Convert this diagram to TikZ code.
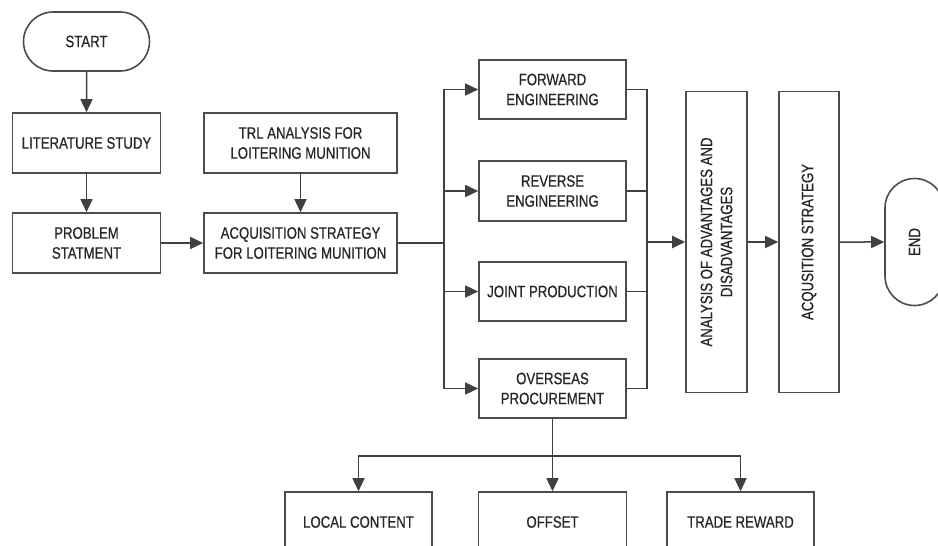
\documentclass[tikz,border=0pt]{standalone}
\usepackage{fontspec}
\setmainfont{Liberation Sans}[FakeStretch=0.8,FakeBold=0.6]
\usepackage{tikz}
\usetikzlibrary{arrows.meta,shapes.misc}

\tikzset{
  box/.style={draw=black!70, line width=1.6pt, fill=white, align=center,
    inner sep=0pt, minimum width=148pt, minimum height=60pt,
    text=black!85, font=\fontsize{16.5}{20}\selectfont},
  term/.style={box, rounded rectangle, minimum width=126pt, minimum height=59pt},
  tall/.style={box, rotate=90, minimum width=301pt, minimum height=61pt},
  link/.style={draw=black!75, line width=1.5pt, -{Triangle[length=13pt,width=12pt]}},
  wire/.style={draw=black!75, line width=1.5pt}
}

\begin{document}
\begin{tikzpicture}[x=1pt,y=-1pt]
\useasboundingbox (0,0) rectangle (938,546);
\clip (0,0) rectangle (938,546);

% left column
\node[term] (start) at (86.5,41.5) {START};
\node[box] (lit) at (86.5,143) {LITERATURE STUDY};
\node[box] (prob) at (86.5,243) {PROBLEM\\STATMENT};
\node[box, minimum width=193pt] (trl) at (300.5,143) {TRL ANALYSIS FOR\\LOITERING MUNITION};
\node[box, minimum width=193pt] (acq) at (300.5,243) {ACQUISITION STRATEGY\\FOR LOITERING MUNITION};

% options
\node[box, minimum width=147pt, minimum height=59pt] (fwd) at (552.5,89.5) {FORWARD\\ENGINEERING};
\node[box, minimum width=147pt] (rev) at (552.5,191) {REVERSE\\ENGINEERING};
\node[box, minimum width=147pt, minimum height=59pt] (joint) at (552.5,291.5) {JOINT PRODUCTION};
\node[box, minimum width=147pt, minimum height=59pt] (over) at (552.5,388.5) {OVERSEAS\\PROCUREMENT};

% right part
\node[tall] (anal) at (716.5,242) {ANALYSIS OF ADVANTAGES AND\\DISADVANTAGES};
\node[tall, minimum height=60pt] (acqs) at (809,242) {ACQUSITION STRATEGY};
\node[term, rotate=90, minimum width=127pt] (end) at (914.5,242) {END};

% bottom row
\node[box, minimum width=147pt] (local) at (358.5,522) {LOCAL CONTENT};
\node[box] (offset) at (552.5,522) {OFFSET};
\node[box, minimum width=147pt] (trade) at (740.5,522) {TRADE REWARD};

\coordinate (split) at (444,243);
\coordinate (join) at (647,242);
\coordinate (fork) at (552.5,456);

\draw[link] (start) -- (lit);
\draw[link] (lit) -- (prob);
\draw[link] (prob) -- (acq);
\draw[link] (trl) -- (acq);

\draw[wire] (acq) -- (split);
\draw[link] (split) |- (fwd.west);
\draw[link] (split) |- (rev.west);
\draw[link] (split) |- (joint.west);
\draw[link] (split) |- (over.west);

\draw[wire] (fwd.east) -| (join);
\draw[wire] (rev.east) -| (join);
\draw[wire] (joint.east) -| (join);
\draw[wire] (over.east) -| (join);
\draw[link, line width=2.2pt] (join) -- (anal);
\draw[link] (anal) -- (acqs);
\draw[link] (acqs) -- (end);

\draw[wire] (over) -- (fork);
\draw[link] (fork) -| (local);
\draw[link] (fork) -- (offset);
\draw[link] (fork) -| (trade);
\end{tikzpicture}
\end{document}
